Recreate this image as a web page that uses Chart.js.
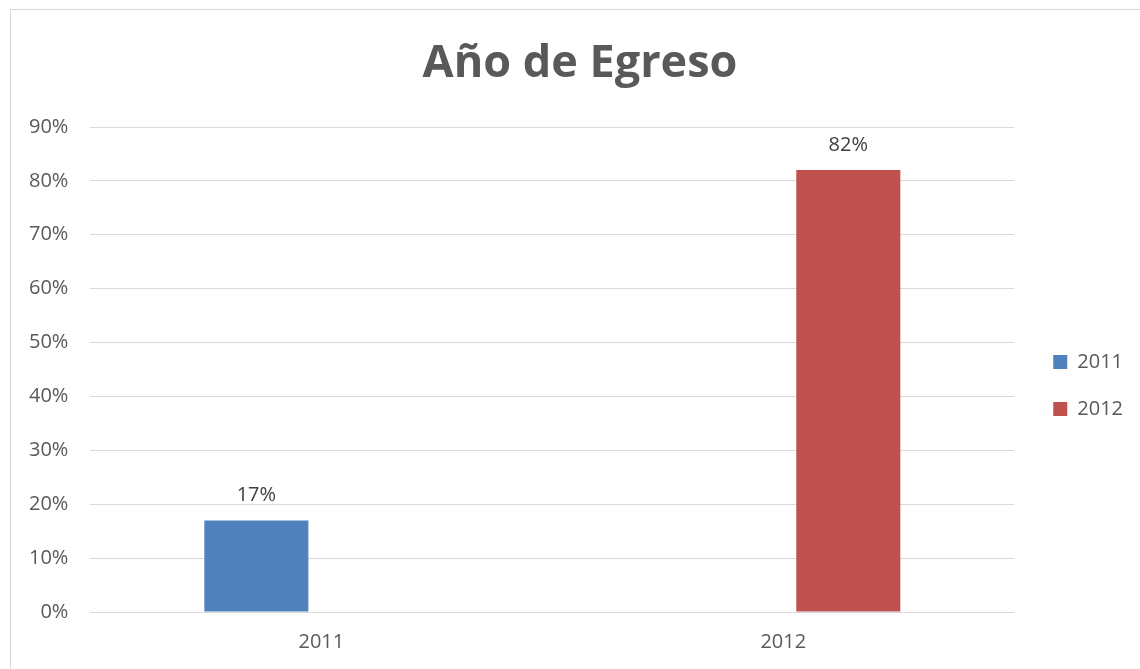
<!DOCTYPE html>
<html>
<head>
<meta charset="utf-8">
<title>Año de Egreso</title>
<script src="https://cdn.jsdelivr.net/npm/chart.js@4.4.1/dist/chart.umd.min.js"></script>
<style>
  html, body { margin: 0; padding: 0; background: #fff; }
  #wrap { position: relative; width: 1140px; height: 669px; overflow: hidden; }
  #frame { position: absolute; left: 10px; top: 9px; right: -5px; bottom: -5px;
           border-left: 1px solid #d9d9d9; border-top: 1px solid #d9d9d9; }
  #myChart { position: absolute; left: 0; top: 0; }
</style>
</head>
<body>
<div id="wrap">
  <div id="frame"></div>
  <canvas id="myChart" width="1140" height="669"></canvas>
</div>
<script>
'use strict';

// categories on the x axis
var years = ['2011', '2012'];
// one series per year, share of graduates
var series2011 = [0.17, null];
var series2012 = [null, 0.82];
var seriesNames = ['2011', '2012'];
var seriesColors = ['#4f81bd', '#c0504d'];

var FONT = "'Open Sans', sans-serif";

// Draws the percent label above each bar
var barLabels = {
   id: 'barLabels',
   afterDatasetsDraw: function (chart) {
      var ctx = chart.ctx;
      ctx.save();
      ctx.font = '20px ' + FONT;
      ctx.fillStyle = '#404040';
      ctx.textAlign = 'center';
      ctx.textBaseline = 'middle';
      chart.data.datasets.forEach(function (ds, i) {
         var meta = chart.getDatasetMeta(i);
         meta.data.forEach(function (bar, j) {
            var v = ds.data[j];
            if (v === null || v === undefined) return;
            ctx.fillText(Math.round(v * 100) + '%', bar.x, bar.y - 25);
         });
      });
      ctx.restore();
   }
};

// Move title and legend a little, like the Excel layout
var boxShift = {
   id: 'boxShift',
   afterLayout: function (chart) {
      chart.titleBlock.left += 16;
      chart.titleBlock.right += 16;
      chart.legend.left += 12;
      chart.legend.right += 12;
      chart.legend.top += 49;
      chart.legend.bottom += 49;
   }
};

var ctx = document.getElementById('myChart');
var myChart = new Chart(ctx, {
   type: 'bar',
   data: {
      labels: years,
      datasets: [{
         label: seriesNames[0],
         backgroundColor: seriesColors[0],
         data: series2011
      }, {
         label: seriesNames[1],
         backgroundColor: seriesColors[1],
         data: series2012
      }]
   },
   options: {
      responsive: false,
      animation: false,
      categoryPercentage: 0.563,
      barPercentage: 0.8,
      layout: { padding: { top: 9, left: 7, right: 19, bottom: 5 } },
      plugins: {
         title: {
            display: true,
            text: 'Año de Egreso',
            color: '#595959',
            font: { family: FONT, size: 45, weight: 'bold' },
            padding: { top: 28, bottom: 36 }
         },
         legend: {
            position: 'right',
            labels: {
               color: '#595959',
               font: { family: FONT, size: 20 },
               boxWidth: 14,
               boxHeight: 14,
               padding: 27
            }
         },
         tooltip: { enabled: false }
      },
      scales: {
         x: {
            grid: { display: false },
            border: { display: false },
            ticks: { color: '#595959', font: { family: FONT, size: 20 }, padding: 10 }
         },
         y: {
            min: 0,
            max: 0.9,
            grid: { color: '#d9d9d9', drawTicks: false },
            border: { display: false },
            ticks: {
               stepSize: 0.1,
               color: '#595959',
               font: { family: FONT, size: 20 },
               padding: 22,
               callback: function (v) { return Math.round(v * 100) + '%'; }
            }
         }
      }
   },
   plugins: [barLabels, boxShift]
});
</script>
</body>
</html>
